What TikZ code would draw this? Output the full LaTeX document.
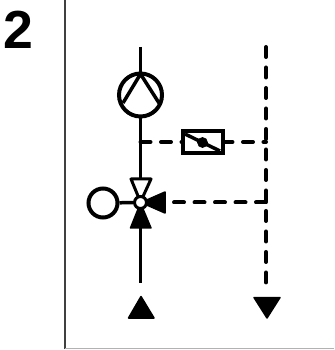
\documentclass[tikz,border=0pt]{standalone}
\usepackage{fontspec}
\setmainfont{Liberation Sans}
\tikzset{
	pipe/.style={black, line width=0.07cm},
	dashpipe/.style={black, line width=0.08cm, line cap=round, dash pattern=on 0.2cm off 0.21cm},
	solid tri/.style={fill=black, draw=black, line width=0.03cm, line join=round},
	open tri/.style={fill=white, draw=black, line width=0.06cm, line join=round},
	ring/.style={circle, draw=black, fill=white, line width=0.08cm, inner sep=0pt}
}
\begin{document}
\begin{tikzpicture}[x=0.02cm, y=-0.02cm]
\useasboundingbox (0,0) rectangle (334,350);
\fill[white](0,0) rectangle (334,350);
\coordinate (frametop) at (65,0);
\coordinate (framecorner) at (65,348.5);
\coordinate (frameend) at (334,348.5);
\draw[black!75, line width=0.045cm](frametop)--(framecorner);
\draw[black!30, line width=0.03cm](framecorner)--(frameend);
\node[anchor=base west, inner sep=0pt, font=\bfseries\fontsize{30.5}{30.5}\selectfont] (number) at (3.5,48.5) {2};
% supply line
\coordinate (supplytop) at (140.5,47);
\coordinate (supplyend) at (140.5,283);
\coordinate (returntop) at (266,47);
\coordinate (returnend) at (266,283);
\coordinate (damperleft) at (140.5,142);
\coordinate (damperright) at (266,142);
\coordinate (mixleft) at (140.5,202.5);
\coordinate (mixright) at (266,202.5);
\draw[pipe](supplytop)--(supplyend);
\draw[dashpipe](returntop)--(returnend);
\draw[dashpipe](damperleft)--(damperright);
\draw[dashpipe](mixright)--(mixleft);
% pump
\node[ring, minimum size=0.86cm] (pump) at (140.5,95) {};
\coordinate (pumpapex) at (140.5,74);
\coordinate (pumpa) at (123,103);
\coordinate (pumpb) at (159,103);
\draw[pipe, line join=miter](pumpa)--(pumpapex)--(pumpb);
% damper
\node[draw=black, fill=white, line width=0.08cm, minimum width=0.8cm, minimum height=0.44cm, inner sep=0pt] (damper) at (202.5,142.5) {};
\coordinate (bladea) at (185,134);
\coordinate (bladeb) at (220,151);
\draw[pipe](bladea)--(bladeb);
\filldraw[black](202.5,142.5) circle[radius=0.1cm];
% mixing valve
\draw[open tri](131,179)--(151,179)--(140.5,202)--cycle;
\draw[solid tri](130.5,228)--(151,228)--(140.5,203)--cycle;
\draw[solid tri](165,192)--(165,213)--(141,202.5)--cycle;
\node[ring, minimum size=0.58cm] (actuator) at (103,203) {};
\node[ring, line width=0.06cm, minimum size=0.24cm] (valve) at (140.5,202.5) {};
\draw[pipe](actuator)--(valve);
% flow arrows
\draw[solid tri](128.5,318)--(154,318)--(141,296.5)--cycle;
\draw[solid tri](254,297.5)--(280,297.5)--(267,318)--cycle;
\end{tikzpicture}
\end{document}
